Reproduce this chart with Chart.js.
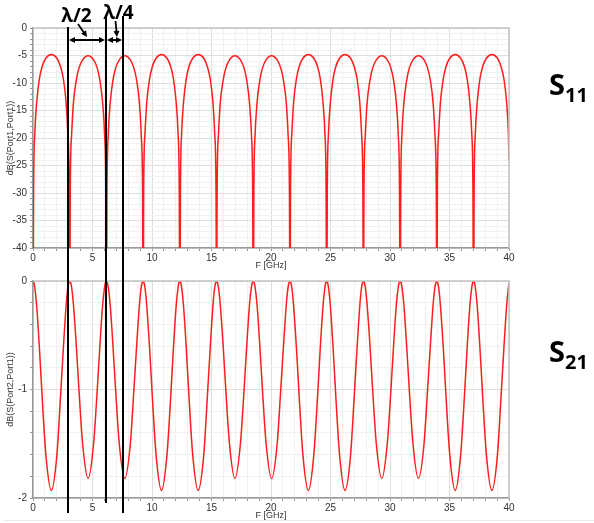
<!DOCTYPE html>
<html>
<head>
<meta charset="utf-8">
<script src="https://cdn.jsdelivr.net/npm/chart.js@4.4.1/dist/chart.umd.min.js"></script>
<style>
  html, body { margin: 0; padding: 0; background: #fff; }
  body { width: 594px; height: 523px; position: relative; overflow: hidden; }
  canvas { position: absolute; left: 0; }
  #s11chart { top: 0; }
  #s21chart { top: 272px; }
  .sp { position: absolute; left: 549px; font-family: "Open Sans", "Liberation Sans", sans-serif;
        font-weight: bold; font-size: 29px; line-height: 1; color: #000; white-space: nowrap; }
  .sp sub { font-size: 20px; line-height: 1; vertical-align: -6.7px; }
  .foot { position: absolute; left: 3px; top: 520px; width: 591px; height: 1px; background: #ececec; }
</style>
</head>
<body>
<canvas id="s11chart" width="594" height="272"></canvas>
<canvas id="s21chart" width="594" height="250"></canvas>
<div class="sp" style="top:69px">S<sub>11</sub></div>
<div class="sp" style="top:336px">S<sub>21</sub></div>
<div class="foot"></div>
<script>
// frequency samples (GHz), denser near the S11 nulls
const freqGHz = [
  0, 0.05, 0.15, 0.31, 0.54, 0.77, 1.08, 1.54, 2.01, 2.31, 2.55, 2.78, 2.93, 3.04,
  3.09, 3.13, 3.24, 3.39, 3.63, 3.86, 4.17, 4.63, 5.09, 5.40, 5.63, 5.86, 6.02, 6.12,
  6.17, 6.22, 6.32, 6.48, 6.71, 6.94, 7.25, 7.71, 8.18, 8.48, 8.72, 8.95, 9.10, 9.21,
  9.26, 9.30, 9.41, 9.56, 9.80, 10.03, 10.34, 10.80, 11.26, 11.57, 11.80, 12.03, 12.19, 12.29,
  12.34, 12.39, 12.49, 12.65, 12.88, 13.11, 13.42, 13.88, 14.35, 14.65, 14.89, 15.12, 15.27, 15.38,
  15.43, 15.47, 15.58, 15.73, 15.97, 16.20, 16.51, 16.97, 17.43, 17.74, 17.97, 18.20, 18.36, 18.46,
  18.51, 18.56, 18.66, 18.82, 19.05, 19.28, 19.59, 20.05, 20.52, 20.82, 21.06, 21.29, 21.44, 21.55,
  21.60, 21.64, 21.75, 21.90, 22.14, 22.37, 22.68, 23.14, 23.60, 23.91, 24.14, 24.37, 24.53, 24.63,
  24.68, 24.73, 24.83, 24.99, 25.22, 25.45, 25.76, 26.22, 26.69, 26.99, 27.23, 27.46, 27.61, 27.72,
  27.77, 27.81, 27.92, 28.07, 28.31, 28.54, 28.85, 29.31, 29.77, 30.08, 30.31, 30.54, 30.70, 30.80,
  30.85, 30.90, 31.00, 31.16, 31.39, 31.62, 31.93, 32.39, 32.86, 33.16, 33.40, 33.63, 33.78, 33.89,
  33.94, 33.98, 34.09, 34.24, 34.48, 34.71, 35.02, 35.48, 35.94, 36.25, 36.48, 36.71, 36.87, 36.97,
  37.02, 37.07, 37.17, 37.33, 37.56, 37.79, 38.10, 38.56, 39.03, 39.33, 39.57, 39.80, 39.95, 40
];

// dB(S(Port1,Port1))
const s11dB = [
  -60, -29.6, -19.2, -13.5, -9.2, -7.0, -5.5, -4.8, -5.5, -7.0, -9.2, -13.5, -19.2, -29.6,
  -60, -30.0, -19.6, -13.8, -9.6, -7.3, -5.8, -5.05, -5.8, -7.3, -9.6, -13.8, -19.6, -30.0,
  -60, -30.0, -19.6, -13.8, -9.6, -7.3, -5.8, -5.05, -5.8, -7.3, -9.6, -13.8, -19.6, -30.0,
  -60, -29.6, -19.2, -13.5, -9.2, -7.0, -5.5, -4.8, -5.5, -7.0, -9.2, -13.5, -19.2, -29.6,
  -60, -29.6, -19.2, -13.5, -9.2, -7.0, -5.5, -4.8, -5.5, -7.0, -9.2, -13.5, -19.2, -29.6,
  -60, -30.0, -19.6, -13.8, -9.6, -7.3, -5.8, -5.05, -5.8, -7.3, -9.6, -13.8, -19.6, -30.0,
  -60, -30.0, -19.6, -13.8, -9.6, -7.3, -5.8, -5.05, -5.8, -7.3, -9.6, -13.8, -19.6, -30.0,
  -60, -29.6, -19.2, -13.5, -9.2, -7.0, -5.5, -4.8, -5.5, -7.0, -9.2, -13.5, -19.2, -29.6,
  -60, -29.6, -19.2, -13.5, -9.2, -7.0, -5.5, -4.8, -5.5, -7.0, -9.2, -13.5, -19.2, -29.6,
  -60, -30.0, -19.6, -13.8, -9.6, -7.3, -5.8, -5.05, -5.8, -7.3, -9.6, -13.8, -19.6, -30.0,
  -60, -30.0, -19.6, -13.8, -9.6, -7.3, -5.8, -5.05, -5.8, -7.3, -9.6, -13.8, -19.6, -30.0,
  -60, -29.6, -19.2, -13.5, -9.2, -7.0, -5.5, -4.8, -5.5, -7.0, -9.2, -13.5, -19.2, -29.6,
  -60, -29.6, -19.2, -13.5, -9.2, -7.0, -5.5, -4.8, -5.5, -7.0, -9.2, -13.5, -19.2, -24
];

// dB(S(Port2,Port1))
const s21dB = [
  0, -0.005, -0.06, -0.23, -0.62, -1.07, -1.6, -1.93, -1.6, -1.07, -0.62, -0.23, -0.06, -0.005,
  0, -0.005, -0.055, -0.21, -0.58, -1.0, -1.5, -1.82, -1.5, -1.0, -0.58, -0.21, -0.055, -0.005,
  0, -0.005, -0.055, -0.21, -0.58, -1.0, -1.5, -1.82, -1.5, -1.0, -0.58, -0.21, -0.055, -0.005,
  0, -0.005, -0.06, -0.23, -0.62, -1.07, -1.6, -1.93, -1.6, -1.07, -0.62, -0.23, -0.06, -0.005,
  0, -0.005, -0.06, -0.23, -0.62, -1.07, -1.6, -1.93, -1.6, -1.07, -0.62, -0.23, -0.06, -0.005,
  0, -0.005, -0.055, -0.21, -0.58, -1.0, -1.5, -1.82, -1.5, -1.0, -0.58, -0.21, -0.055, -0.005,
  0, -0.005, -0.055, -0.21, -0.58, -1.0, -1.5, -1.82, -1.5, -1.0, -0.58, -0.21, -0.055, -0.005,
  0, -0.005, -0.06, -0.23, -0.62, -1.07, -1.6, -1.93, -1.6, -1.07, -0.62, -0.23, -0.06, -0.005,
  0, -0.005, -0.06, -0.23, -0.62, -1.07, -1.6, -1.93, -1.6, -1.07, -0.62, -0.23, -0.06, -0.005,
  0, -0.005, -0.055, -0.21, -0.58, -1.0, -1.5, -1.82, -1.5, -1.0, -0.58, -0.21, -0.055, -0.005,
  0, -0.005, -0.055, -0.21, -0.58, -1.0, -1.5, -1.82, -1.5, -1.0, -0.58, -0.21, -0.055, -0.005,
  0, -0.005, -0.06, -0.23, -0.62, -1.07, -1.6, -1.93, -1.6, -1.07, -0.62, -0.23, -0.06, -0.005,
  0, -0.005, -0.06, -0.23, -0.62, -1.07, -1.6, -1.93, -1.6, -1.07, -0.62, -0.23, -0.06, -0.02
];

// black marker lines (GHz) and the λ labels between them
const markerGHz = [2.92, 6.1, 7.56];
const markerLabels = ["λ/2", "λ/4"];

// page y where each marker line starts / ends
const markerSpan = [[27, 513], [16, 503], [16, 513]];
const BOTTOM_TOP = 272;

Chart.defaults.font.family = "'Liberation Sans', Arial, sans-serif";
Chart.defaults.color = "#333";

var majorGrid = "#dedede";
var minorGrid = "#f1f1f1";

function arrowHead(ctx, x, y, dx, dy) {
  var L = 6, W = 3;
  ctx.beginPath();
  ctx.moveTo(x, y);
  ctx.lineTo(x - dx * L - dy * W, y - dy * L + dx * W);
  ctx.lineTo(x - dx * L + dy * W, y - dy * L - dx * W);
  ctx.closePath();
  ctx.fill();
}

function leader(ctx, x0, y0, x1, y1) {
  var len = Math.hypot(x1 - x0, y1 - y0);
  var dx = (x1 - x0) / len, dy = (y1 - y0) / len;
  ctx.beginPath();
  ctx.moveTo(x0, y0);
  ctx.lineTo(x1 - dx * 4, y1 - dy * 4);
  ctx.stroke();
  arrowHead(ctx, x1, y1, dx, dy);
}

var markerPlugin = {
  id: "markers",
  afterDraw: function (chart, args, opts) {
    var ctx = chart.ctx, a = chart.chartArea, xs = chart.scales.x;
    ctx.save();
    // top and right edges of the plot box
    ctx.strokeStyle = "#c4c4c4";
    ctx.lineWidth = 1.5;
    ctx.beginPath();
    ctx.moveTo(a.left, a.top);
    ctx.lineTo(a.right, a.top);
    ctx.lineTo(a.right, a.bottom);
    ctx.stroke();

    ctx.strokeStyle = "#000";
    ctx.fillStyle = "#000";
    ctx.lineWidth = 2;
    var px = markerGHz.map(function (f) { return Math.round(xs.getPixelForValue(f)); });
    px.forEach(function (x, i) {
      var y0 = opts.top ? markerSpan[i][0] : 0;
      var y1 = opts.top ? chart.height : markerSpan[i][1] - BOTTOM_TOP;
      ctx.beginPath();
      ctx.moveTo(x, y0);
      ctx.lineTo(x, y1);
      ctx.stroke();
    });

    if (opts.top) {
      var ay = 40;
      for (var i = 0; i < 2; i++) {
        var xa = px[i] + 1, xb = px[i + 1] - 1;
        ctx.beginPath();
        ctx.moveTo(xa + 4, ay);
        ctx.lineTo(xb - 4, ay);
        ctx.stroke();
        arrowHead(ctx, xa, ay, -1, 0);
        arrowHead(ctx, xb, ay, 1, 0);
      }
      var m1 = (px[0] + px[1]) / 2, m2 = (px[1] + px[2]) / 2;
      ctx.font = "bold 19px 'Open Sans', 'Liberation Sans', sans-serif";
      ctx.textAlign = "center";
      ctx.textBaseline = "alphabetic";
      ctx.fillText(markerLabels[0], m1 - 10.5, 22);
      ctx.fillText(markerLabels[1], m2 + 4, 19);
      ctx.lineWidth = 1.8;
      leader(ctx, m1 - 9, 24, m1, 37);
      leader(ctx, m2 + 1, 21, m2 + 2.5, 37);
    }
    ctx.restore();
  }
};

function makeChart(id, values, yMin, yStep, yTitle, isMajorY, padTop, isTop) {
  return new Chart(document.getElementById(id), {
    type: "line",
    data: {
      datasets: [
        {
          data: freqGHz.map(function (f, i) { return { x: f, y: values[i] }; }),
          borderColor: "#ff1e1e",
          borderWidth: 1.5,
          pointRadius: 0,
          cubicInterpolationMode: "monotone",
        },
      ],
    },
    options: {
      responsive: false,
      animation: false,
      layout: { padding: { top: padTop, right: 85, left: 0, bottom: 0 } },
      plugins: {
        legend: { display: false },
        tooltip: { enabled: false },
        markers: { top: isTop },
      },
      scales: {
        x: {
          type: "linear",
          min: 0,
          max: 40,
          afterFit: function (s) { s.height = 24; },
          ticks: {
            stepSize: 1,
            autoSkip: false,
            maxRotation: 0,
            minRotation: 0,
            padding: 1,
            font: { size: 10 },
            callback: function (v) { return v % 5 === 0 ? v : ""; },
          },
          grid: {
            color: function (c) { return c.tick && c.tick.value % 5 === 0 ? majorGrid : minorGrid; },
            tickColor: "#999",
            tickLength: 3,
          },
          border: { color: "#999", width: 1.5 },
          title: { display: true, text: "F [GHz]", font: { size: 9 }, padding: { top: 0, bottom: 1 } },
        },
        y: {
          min: yMin,
          max: 0,
          afterFit: function (s) { s.width = 33; },
          ticks: {
            stepSize: yStep,
            autoSkip: false,
            maxTicksLimit: 100,
            padding: 3,
            font: { size: 10 },
            callback: function (v) { return isMajorY(v) ? Math.round(v) : ""; },
          },
          grid: {
            color: function (c) { return c.tick && isMajorY(c.tick.value) ? majorGrid : minorGrid; },
            tickColor: "#999",
            tickLength: 3,
          },
          border: { color: "#999", width: 1.5 },
          title: { display: true, text: yTitle, font: { size: 9 }, padding: { top: 5, bottom: 0 } },
        },
      },
    },
    plugins: [markerPlugin],
  });
}

makeChart("s11chart", s11dB, -40, 1, "dB(S(Port1,Port1))",
  function (v) { return Math.abs(v % 5) < 1e-6; }, 28, true);
makeChart("s21chart", s21dB, -2, 0.2, "dB(S(Port2,Port1))",
  function (v) { return Math.abs(v - Math.round(v)) < 1e-6; }, 8, false);
</script>
</body>
</html>
